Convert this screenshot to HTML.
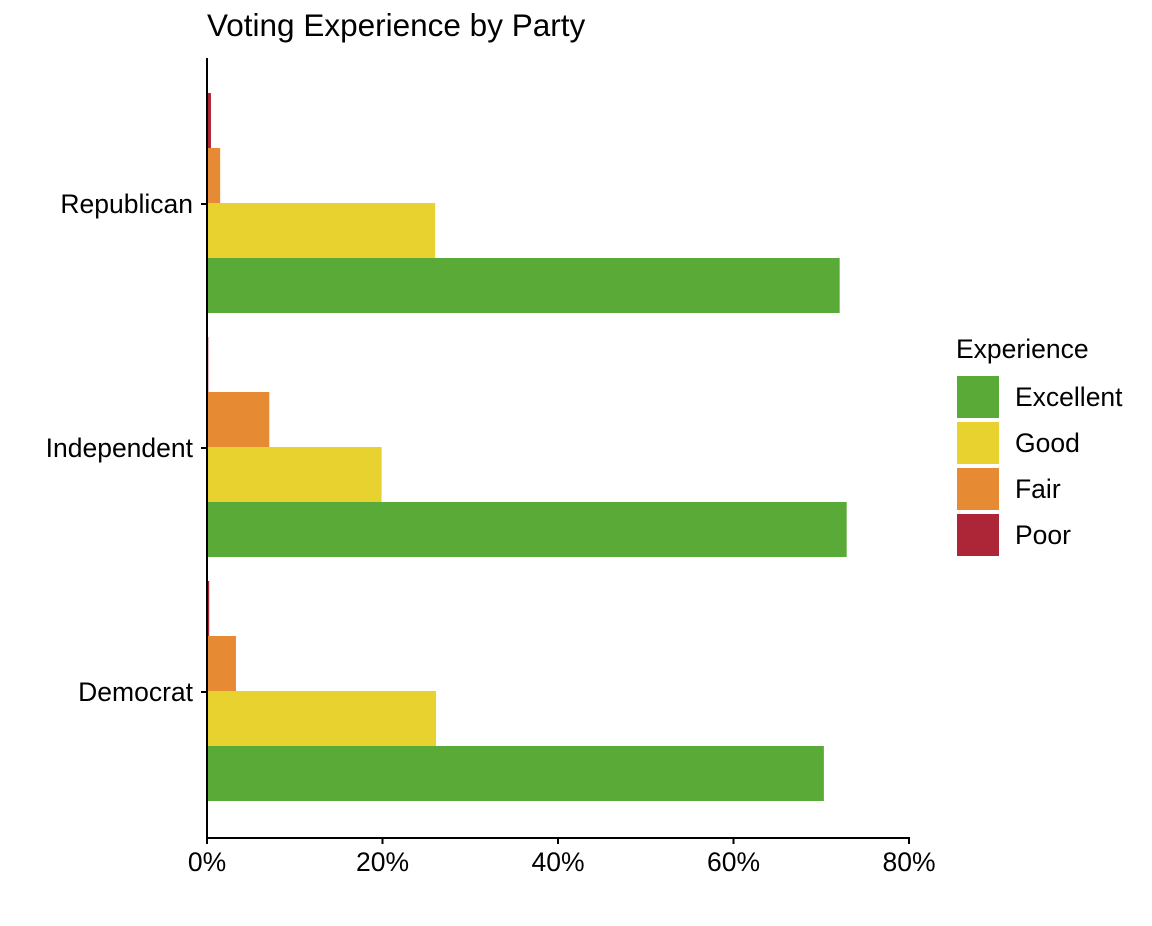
<!DOCTYPE html>
<html><head><meta charset="utf-8"><style>
body{margin:0;background:#fff;font-family:"Liberation Sans",Arial,sans-serif}
svg text{font-family:"Liberation Sans",Arial,sans-serif}
</style></head><body>
<svg id="chart" width="1152" height="921" xmlns="http://www.w3.org/2000/svg">
<text x="207" y="36" font-size="31.5" fill="#000">Voting Experience by Party</text>
<g id="bars"></g>
<g id="axes"></g>
<g id="legend"></g>
</svg>
<script>
const categories = ["Republican","Independent","Democrat"];
const seriesNames = ["Excellent","Good","Fair","Poor"];
const excellent = [72.1, 72.9, 70.3];
const good = [26.0, 19.9, 26.1];
const fair = [1.5, 7.1, 3.3];
const poor = [0.45, 0.15, 0.25];
const xTicks = [0,20,40,60,80];
const xTickLabels = ["0%","20%","40%","60%","80%"];
const colors = ["#5aaa37","#e8d22f","#e78a34","#ac2637"];

const NS="http://www.w3.org/2000/svg";
const x0=207, x1=909, xmax=80;
const xs = v => x0 + v/xmax*(x1-x0);
const yTop=58, yBot=838;
const band=244;
const yc = i => 204 + band*i;
const barH = 55;
function mk(tag, attrs, parent){const e=document.createElementNS(NS,tag);for(const k in attrs)e.setAttribute(k,attrs[k]);parent.appendChild(e);return e;}
const bars=document.getElementById('bars'), axes=document.getElementById('axes'), legend=document.getElementById('legend');
const series=[excellent,good,fair,poor];
categories.forEach((c,i)=>{
  series.forEach((s,j)=>{
    const pos = 3-j;
    const y = yc(i) - 111 + pos*barH;
    const r=mk('rect',{x:x0,y:y,width:Math.max(0,xs(s[i])-x0),height:barH,fill:colors[j]},bars);
    
    
  });
  const t=mk('line',{x1:x0-6,x2:x0,y1:yc(i),y2:yc(i),stroke:'#000','stroke-width':2},axes);
  
  
  const l=mk('text',{x:x0-14,y:yc(i)+9,'text-anchor':'end','font-size':26.5,fill:'#000'},axes);
  l.textContent=c;
  
  
});
const ya=mk('line',{x1:x0,x2:x0,y1:yTop,y2:yBot,stroke:'#000','stroke-width':2},axes);


const xa=mk('line',{x1:x0-1,x2:x1+1,y1:yBot,y2:yBot,stroke:'#000','stroke-width':2},axes);


xTicks.forEach((v,k)=>{
  const t=mk('line',{x1:xs(v),x2:xs(v),y1:yBot,y2:yBot+6,stroke:'#000','stroke-width':2},axes);
  
  
  const l=mk('text',{x:xs(v),y:yBot+33,'text-anchor':'middle','font-size':26.5,fill:'#000'},axes);
  l.textContent=xTickLabels[k];
  
  
});
const lt=mk('text',{x:956,y:358,'font-size':26.5,fill:'#000'},legend);
lt.textContent="Experience";


seriesNames.forEach((n,j)=>{
  const y=376+j*46;
  const r=mk('rect',{x:957,y:y,width:42,height:42,fill:colors[j]},legend);
  
  
  const t=mk('text',{x:1015,y:y+30,'font-size':26.5,fill:'#000'},legend);
  t.textContent=n;
  
  
});
</script>
</body></html>
